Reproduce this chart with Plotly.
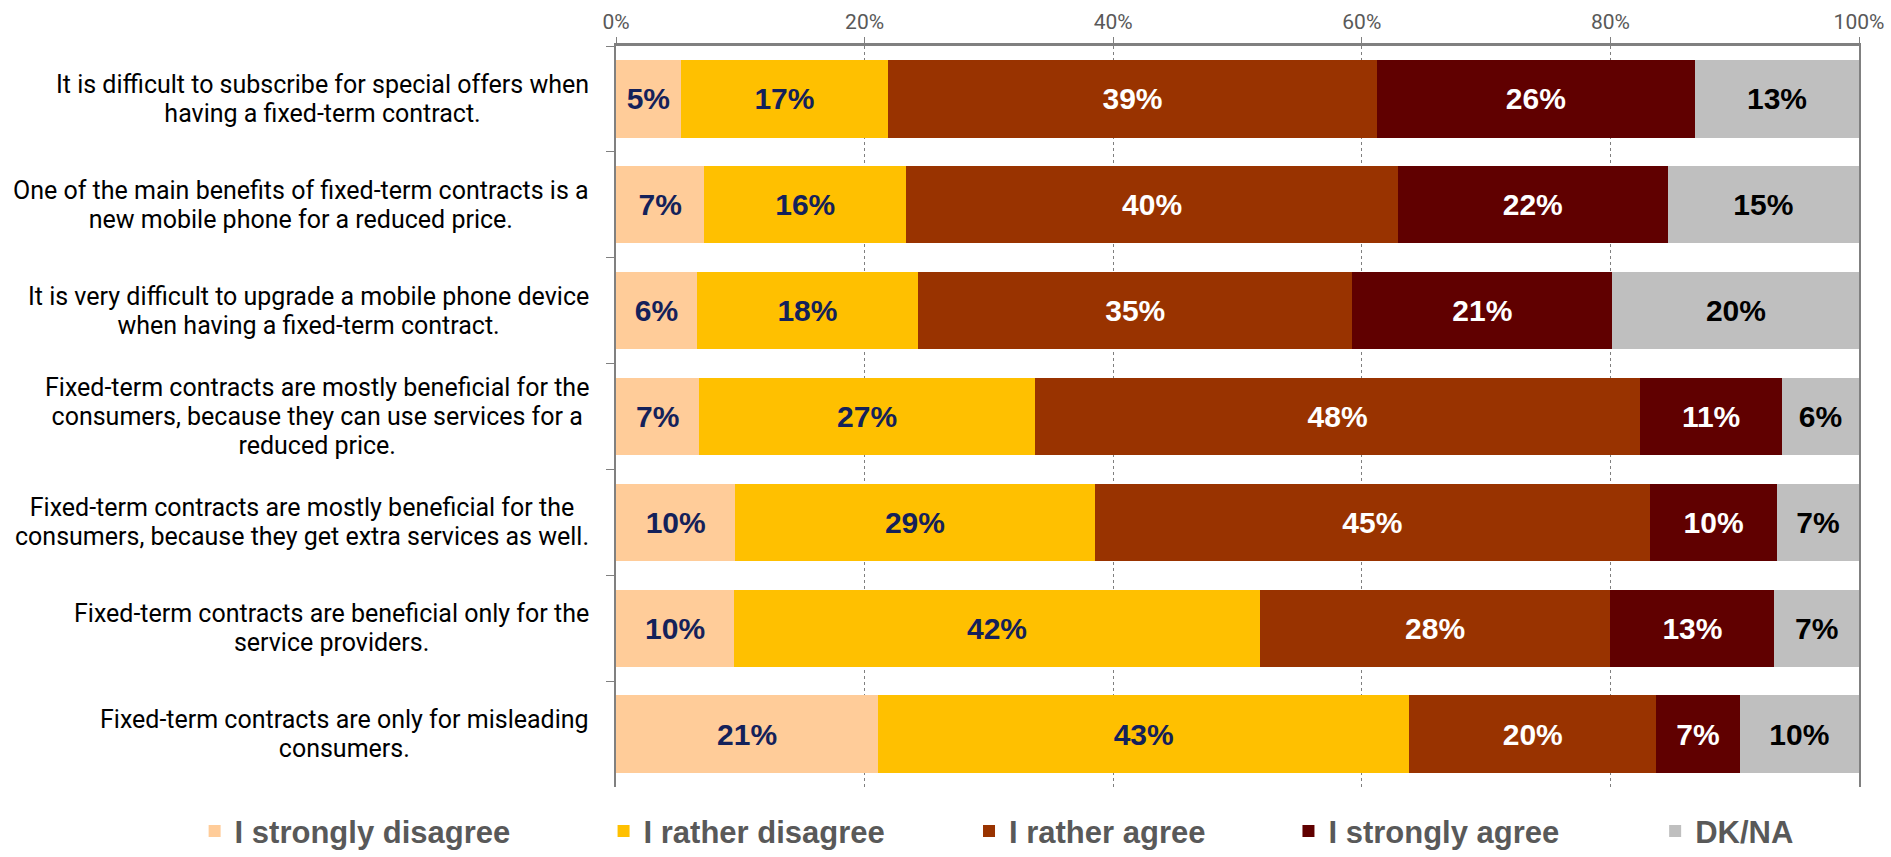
import plotly.graph_objects as go

categories = [
    "It is difficult to subscribe for special offers when<br>having a fixed-term contract.",
    "One of the main benefits of fixed-term contracts is a<br>new mobile phone for a reduced price.",
    "It is very difficult to upgrade a mobile phone device<br>when having a fixed-term contract.",
    "Fixed-term contracts are mostly beneficial for the<br>consumers, because they can use services for a<br>reduced price.",
    "Fixed-term contracts are mostly beneficial for the<br>consumers, because they get extra services as well.",
    "Fixed-term contracts are beneficial only for the<br>service providers.",
    "Fixed-term contracts are only for misleading<br>consumers.",
]

series_names = ["I strongly disagree", "I rather disagree", "I rather agree", "I strongly agree", "DK/NA"]

strongly_disagree = [5.2, 7.1, 6.5, 6.7, 9.6, 9.5, 21.1]
rather_disagree = [16.7, 16.25, 17.8, 27.0, 28.9, 42.3, 42.7]
rather_agree = [39.3, 39.55, 34.95, 48.7, 44.7, 28.2, 19.9]
strongly_agree = [25.6, 21.7, 20.9, 11.4, 10.2, 13.2, 6.7]
dk_na = [13.2, 15.4, 19.9, 6.2, 6.6, 6.8, 9.6]

strongly_disagree_labels = [5, 7, 6, 7, 10, 10, 21]
rather_disagree_labels = [17, 16, 18, 27, 29, 42, 43]
rather_agree_labels = [39, 40, 35, 48, 45, 28, 20]
strongly_agree_labels = [26, 22, 21, 11, 10, 13, 7]
dk_na_labels = [13, 15, 20, 6, 7, 7, 10]

x_ticks = [0, 20, 40, 60, 80, 100]

colors = ["#FFCC99", "#FFC000", "#993300", "#600000", "#BFBFBF"]
label_colors = ["#14215A", "#14215A", "#FFFFFF", "#FFFFFF", "#000000"]

# horizontal placement of each legend entry (paper coordinates)
legend_x = [-0.339, -0.010, 0.284, 0.541, 0.836]

ARIAL = "Liberation Sans, Arial, sans-serif"
GOTHIC = "Roboto, Liberation Sans, sans-serif"

values = [strongly_disagree, rather_disagree, rather_agree, strongly_agree, dk_na]
labels = [strongly_disagree_labels, rather_disagree_labels, rather_agree_labels,
          strongly_agree_labels, dk_na_labels]

fig = go.Figure()
legend_ids = ["legend"] + [f"legend{k}" for k in range(2, len(series_names) + 1)]
for name, vals, labs, col, lcol, lid in zip(series_names, values, labels, colors,
                                            label_colors, legend_ids):
    fig.add_trace(go.Bar(
        name=name,
        y=categories,
        x=vals,
        orientation="h",
        legend=lid,
        marker=dict(color=col, line=dict(width=0)),
        text=[f"{v}%" for v in labs],
        textposition="inside",
        insidetextanchor="middle",
        textangle=0,
        constraintext="none",
        textfont=dict(family=ARIAL, size=30, color=lcol, weight="bold"),
        hoverinfo="skip",
    ))

# category labels: centred lines; base font size sets the line spacing,
# the inner span sets the glyph size
LINE_GAP = 29
GLYPH_SIZE = 25
for cat in categories:
    fig.add_annotation(
        x=-0.02, xref="paper", xanchor="right",
        y=cat, yref="y", yanchor="middle",
        text=f'<span style="font-size:{GLYPH_SIZE}px">{cat}</span>',
        showarrow=False,
        align="center",
        font=dict(family=GOTHIC, size=LINE_GAP / 1.3, color="#000000"),
    )

legend_style = dict(
    orientation="h",
    xanchor="left",
    y=-0.060, yanchor="middle",
    font=dict(family=ARIAL, size=31, color="#595959", weight="bold"),
    bgcolor="rgba(0,0,0,0)",
)
legend_layout = {lid: dict(legend_style, x=lx) for lid, lx in zip(legend_ids, legend_x)}

fig.update_layout(
    barmode="stack",
    bargap=0.27,
    width=1891, height=857,
    margin=dict(l=616, r=32, t=46, b=70, autoexpand=False),
    paper_bgcolor="white",
    plot_bgcolor="white",
    showlegend=True,
    xaxis=dict(
        side="top",
        range=[0, 100],
        tickvals=x_ticks,
        ticktext=[f"{t}%" for t in x_ticks],
        showgrid=True,
        gridcolor="#7F7F7F",
        gridwidth=1,
        griddash="dot",
        showline=True,
        linecolor="#808080",
        linewidth=3,
        ticks="outside",
        ticklen=6,
        tickcolor="#808080",
        tickfont=dict(family=GOTHIC, size=21, color="#595959"),
        zeroline=False,
        fixedrange=True,
    ),
    yaxis=dict(
        autorange="reversed",
        showticklabels=False,
        showline=True,
        mirror=True,
        linecolor="#808080",
        linewidth=2,
        ticks="outside",
        tickson="boundaries",
        ticklen=8,
        tickcolor="#808080",
        showgrid=False,
        fixedrange=True,
    ),
    **legend_layout,
)

fig.write_html("out.html")
